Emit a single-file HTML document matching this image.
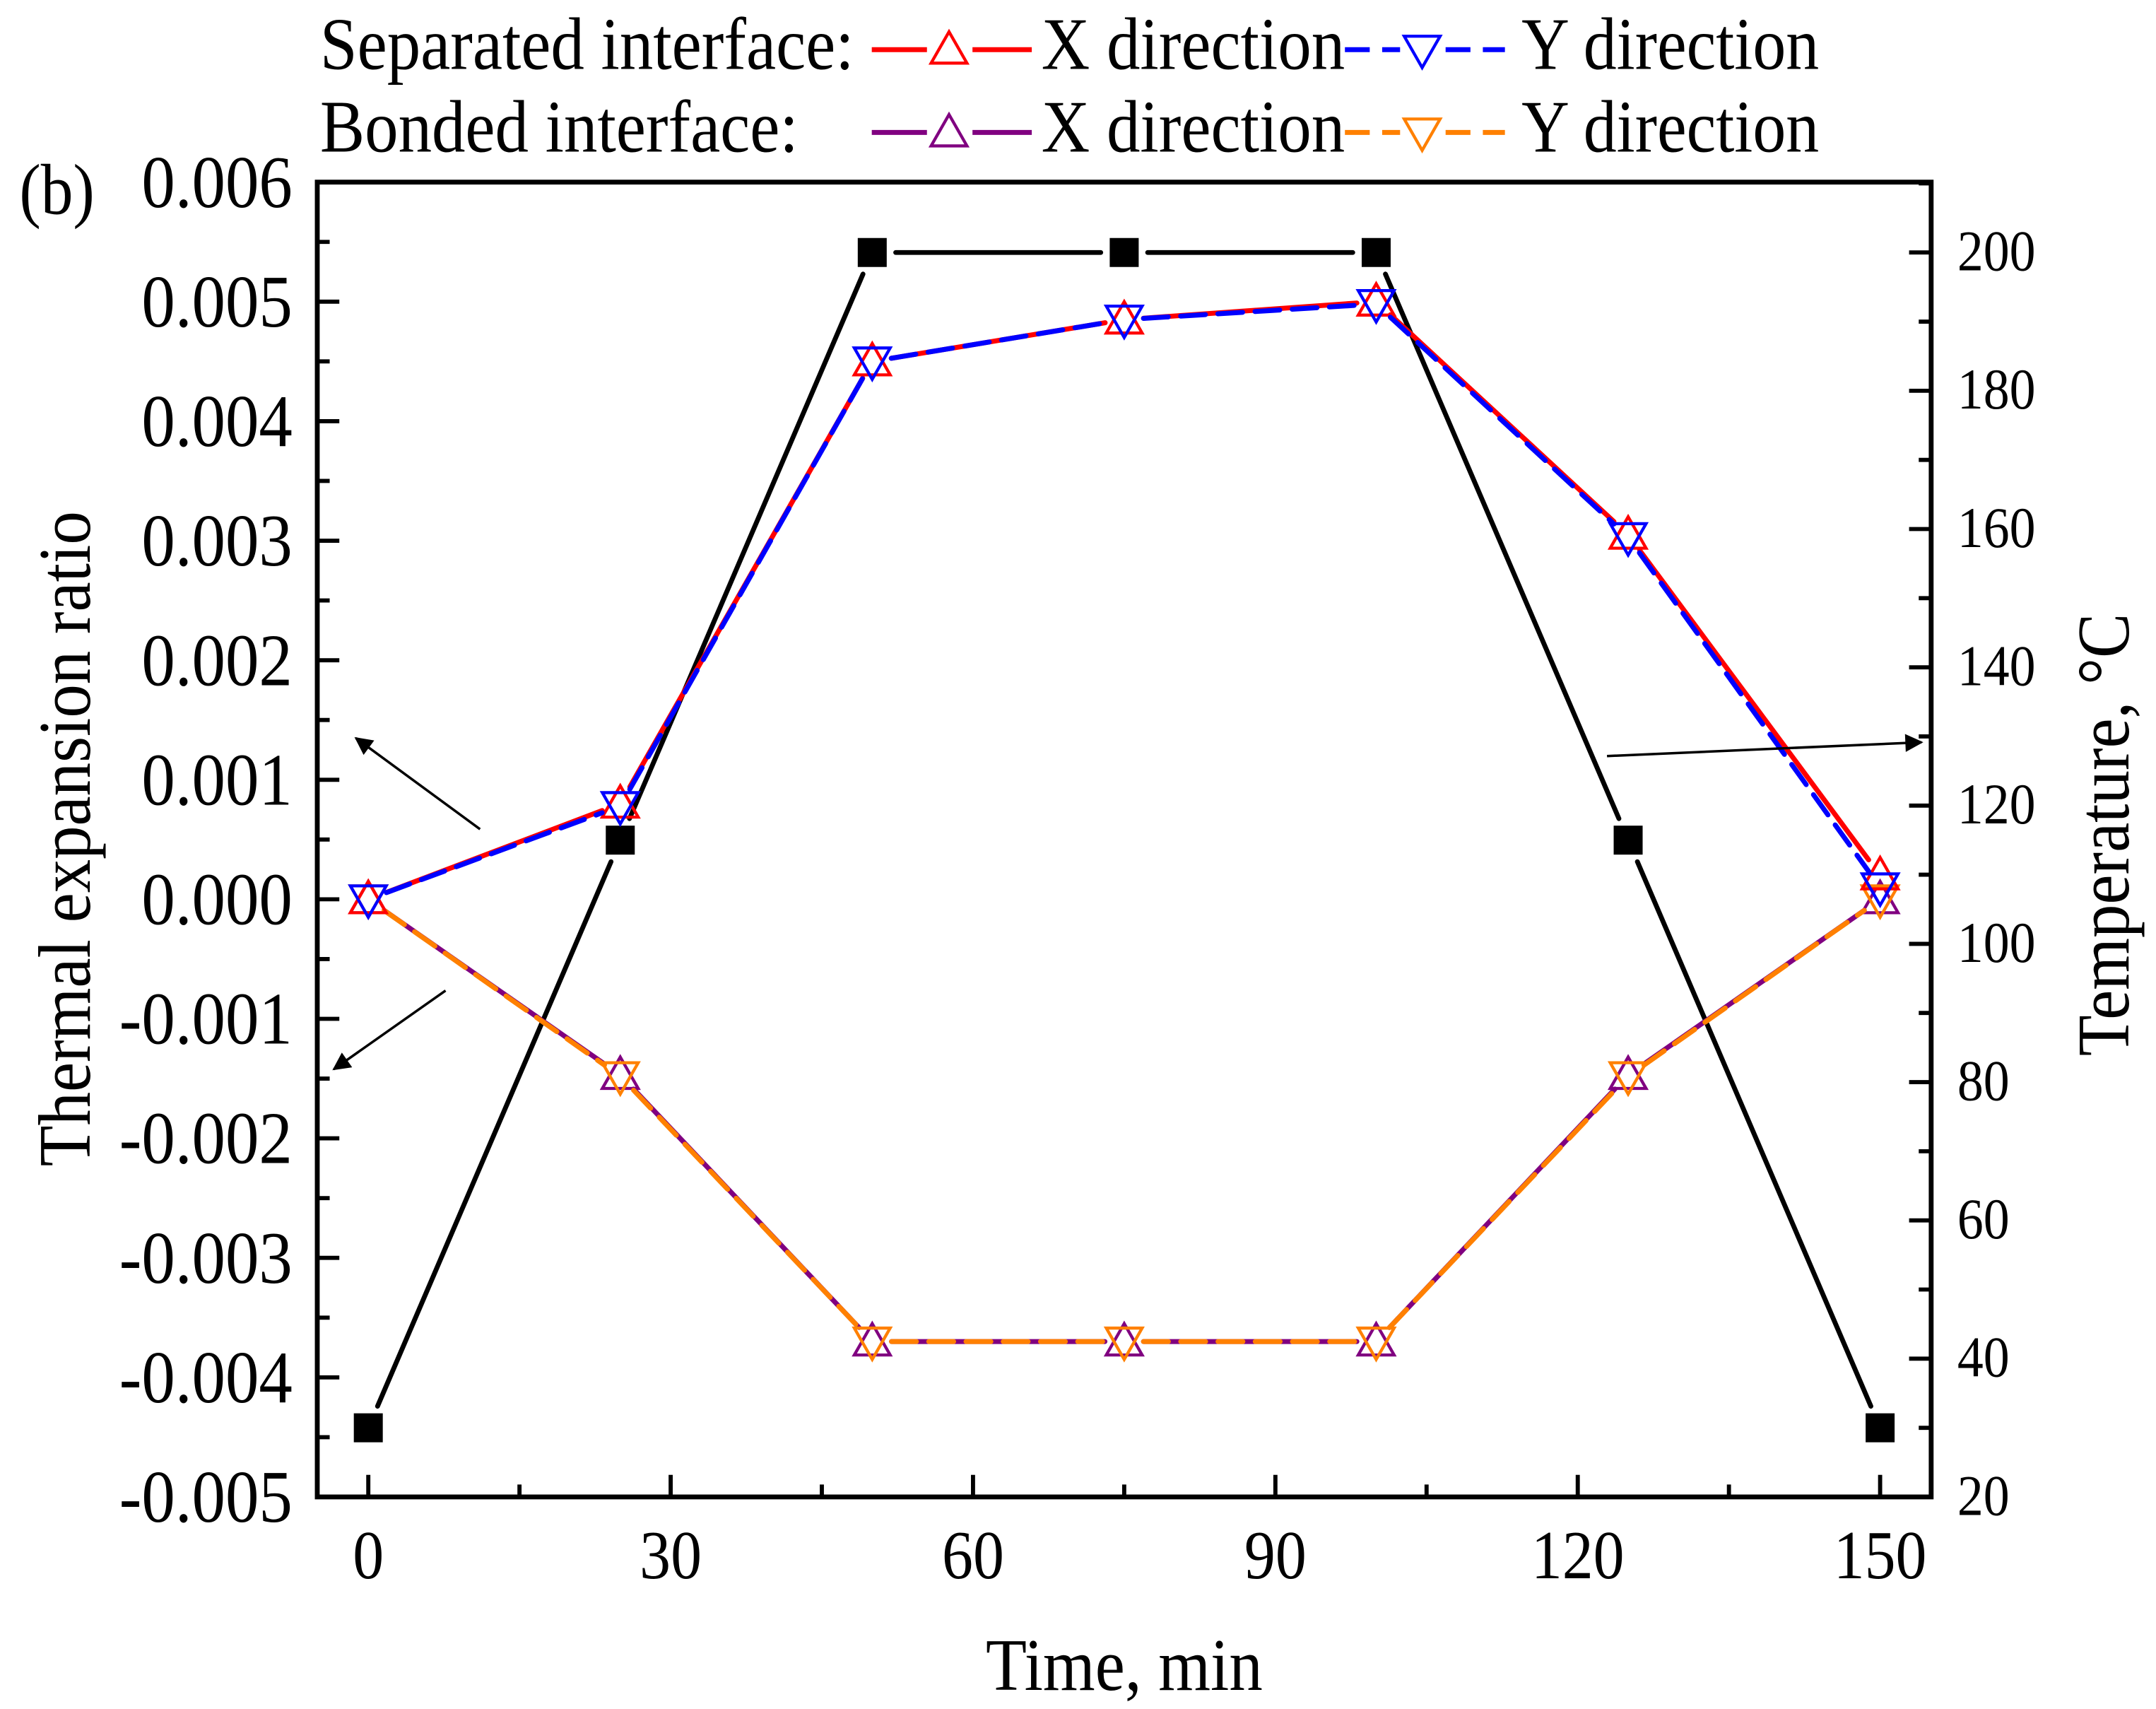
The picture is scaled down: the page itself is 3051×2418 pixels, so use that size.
<!DOCTYPE html>
<html><head><meta charset="utf-8"><style>
html,body{margin:0;padding:0;background:#fff;}
svg{display:block;}
text{font-family:"Liberation Serif",serif;fill:#000;}
</style></head><body>
<svg id="chart" width="3051" height="2418" viewBox="0 0 1563 1238.7" xmlns="http://www.w3.org/2000/svg">
<g id="frame"></g>
<g id="temp"></g>
<g id="series"></g>
<g id="ticks"></g>
<g id="legend">
  <text transform="translate(232,50) scale(0.9,1)" font-size="54">Separated interface:</text>
  <text transform="translate(232,110) scale(0.9,1)" font-size="54">Bonded interface:</text>
  <text transform="translate(755,50) scale(0.9,1)" font-size="54">X direction</text>
  <text transform="translate(1103,50) scale(0.89,1)" font-size="54">Y direction</text>
  <text transform="translate(755,110) scale(0.9,1)" font-size="54">X direction</text>
  <text transform="translate(1103,110) scale(0.89,1)" font-size="54">Y direction</text>
</g>
<text transform="translate(14,155) scale(0.9,1)" font-size="52">(b)</text>
<text font-size="54" text-anchor="middle" transform="translate(65,608) rotate(-90) scale(0.9,1)">Thermal expansion ratio</text>
<text font-size="54" text-anchor="middle" transform="translate(1543,605) rotate(-90) scale(0.9,1)">Temperature, °C</text>
<text font-size="54" text-anchor="middle" transform="translate(815,1225) scale(0.9,1)">Time, min</text>
<defs><marker id="ah" viewBox="0 0 10 10" refX="9" refY="5" markerWidth="22" markerHeight="13" orient="auto" markerUnits="userSpaceOnUse"><path d="M0,0 L10,5 L0,10 z" fill="#000"/></marker></defs>
<g stroke="#000" stroke-width="1.8">
  <line x1="348" y1="601" x2="258" y2="535" marker-end="url(#ah)"/>
  <line x1="323" y1="718" x2="242" y2="775" marker-end="url(#ah)"/>
  <line x1="1165" y1="548" x2="1393" y2="538" marker-end="url(#ah)"/>
</g>
</svg>
<script>
const times = [0, 25, 50, 75, 100, 125, 150];
const temperature = [30, 115, 200, 200, 200, 115, 30];
const sepX = [0, 0.0008, 0.0045, 0.00485, 0.00500, 0.00305, 0.0002];
const sepY = [0, 0.00078, 0.0045, 0.00485, 0.00498, 0.00303, 0.0001];
const bondX = [0, -0.00147, -0.0037, -0.0037, -0.0037, -0.00147, 0];
const bondY = [0, -0.00148, -0.0037, -0.0037, -0.0037, -0.00148, 0];
const xTicks = [0, 30, 60, 90, 120, 150];
const yTicks = [0.006, 0.005, 0.004, 0.003, 0.002, 0.001, 0, -0.001, -0.002, -0.003, -0.004, -0.005];
const yTickLabels = ["0.006","0.005","0.004","0.003","0.002","0.001","0.000","-0.001","-0.002","-0.003","-0.004","-0.005"];
const y2Ticks = [20, 40, 60, 80, 100, 120, 140, 160, 180, 200];

const NS = "http://www.w3.org/2000/svg";
const L = 230, R = 1400, T = 132, B = 1085;
const sx = v => 267 + (v - 0) * (1363 - 267) / 150;
const sy = v => B - (v + 0.005) * (B - T) / 0.011;
const sy2 = v => B - (v - 20) * (B - 183) / 180;
function mk(tag, attrs, parent) {
  const e = document.createElementNS(NS, tag);
  for (const k in attrs) e.setAttribute(k, attrs[k]);
  parent.appendChild(e);
  return e;
}
const frame = document.getElementById('frame');
const fr = mk('rect', {x: L, y: T, width: R - L, height: B - T, fill: 'none', stroke: '#000', 'stroke-width': 3.5}, frame);



const tk = document.getElementById('ticks');
function tline(x1, y1, x2, y2) { mk('line', {x1, y1, x2, y2, stroke: '#000', 'stroke-width': 3}, tk); }
yTicks.forEach((v, i) => {
  const y = sy(v);
  tline(L, y, L + 16, y);
  const t = mk('text', {transform: `translate(212,${y + 18}) scale(0.9,1)`, 'font-size': 54, 'text-anchor': 'end'}, tk);
  t.textContent = yTickLabels[i];
  
  
  if (i < yTicks.length - 1) { const ym = sy(v - 0.0005); tline(L, ym, L + 9, ym); }
});
xTicks.forEach((v, i) => {
  const x = sx(v);
  tline(x, B, x, B - 16);
  const t = mk('text', {transform: `translate(${x},1144) scale(0.9,1)`, 'font-size': 50, 'text-anchor': 'middle'}, tk);
  t.textContent = v;
  
  
  if (i < xTicks.length - 1) { const xm = sx(v + 15); tline(xm, B, xm, B - 9); }
});
y2Ticks.forEach((v, i) => {
  const y = sy2(v);
  tline(R, y, R - 16, y);
  const t = mk('text', {transform: `translate(1419,${y + 13}) scale(0.9,1)`, 'font-size': 42}, tk);
  t.textContent = v;
  
  
  if (v < 200) { const ym = sy2(v + 10); tline(R, ym, R - 9, ym); }
});
tline(R, sy2(210), R - 9, sy2(210));

function gapLine(pts, gap, attrs, parent) {
  for (let i = 0; i < pts.length - 1; i++) {
    const [x1, y1] = pts[i], [x2, y2] = pts[i + 1];
    const d = Math.hypot(x2 - x1, y2 - y1);
    if (d < 2 * gap) continue;
    const ux = (x2 - x1) / d, uy = (y2 - y1) / d;
    mk('line', Object.assign({x1: x1 + ux * gap, y1: y1 + uy * gap, x2: x2 - ux * gap, y2: y2 - uy * gap}, attrs), parent);
  }
}
function tri(x, y, up, color, parent) {
  const s = 13;
  const p = up ? `${x},${y - s} ${x + s},${y + s * 0.75} ${x - s},${y + s * 0.75}` : `${x},${y + s} ${x + s},${y - s * 0.75} ${x - s},${y - s * 0.75}`;
  mk('polygon', {points: p, fill: 'none', stroke: color, 'stroke-width': 2.2}, parent);
}

const tg = document.getElementById('temp');
const tpts = times.map((t, i) => [sx(t), sy2(temperature[i])]);
gapLine(tpts, 17, {stroke: '#000', 'stroke-width': 3.5, 'stroke-linecap': 'round'}, tg);
tpts.forEach(([x, y]) => {
  const r = mk('rect', {x: x - 10.5, y: y - 10.5, width: 21, height: 21, fill: '#000'}, tg);
  
  
});

const sg = document.getElementById('series');
const defs = [
  {data: bondX, color: '#800080', dash: null, up: true, name: 'bonded-x'},
  {data: bondY, color: '#ff8000', dash: '18 9', up: false, name: 'bonded-y'},
  {data: sepX, color: '#ff0000', dash: null, up: true, name: 'separated-x'},
  {data: sepY, color: '#0000ff', dash: '18 9', up: false, name: 'separated-y'}
];
defs.forEach(s => {
  const g = mk('g', {}, sg);
  
  
  const pts = times.map((t, i) => [sx(t), sy(s.data[i])]);
  const a = {stroke: s.color, 'stroke-width': 3.6, 'stroke-linecap': 'round'};
  if (s.dash) a['stroke-dasharray'] = s.dash;
  gapLine(pts, 14, a, g);
  pts.forEach(([x, y]) => tri(x, y, s.up, s.color, g));
});

const lg = document.getElementById('legend');
[[632, 36, '#ff0000', null, true], [975, 36, '#0000ff', '18 9', false], [632, 96, '#800080', null, true], [975, 96, '#ff8000', '18 9', false]].forEach(([x, y, c, d, up]) => {
  const a = {stroke: c, 'stroke-width': 3.6};
  if (d) a['stroke-dasharray'] = d;
  mk('line', Object.assign({x1: x, y1: y, x2: x + 40, y2: y}, a), lg);
  mk('line', Object.assign({x1: x + 73, y1: y, x2: x + 116, y2: y}, a), lg);
  tri(x + 56, y, up, c, lg);
});
</script>
</body></html>
